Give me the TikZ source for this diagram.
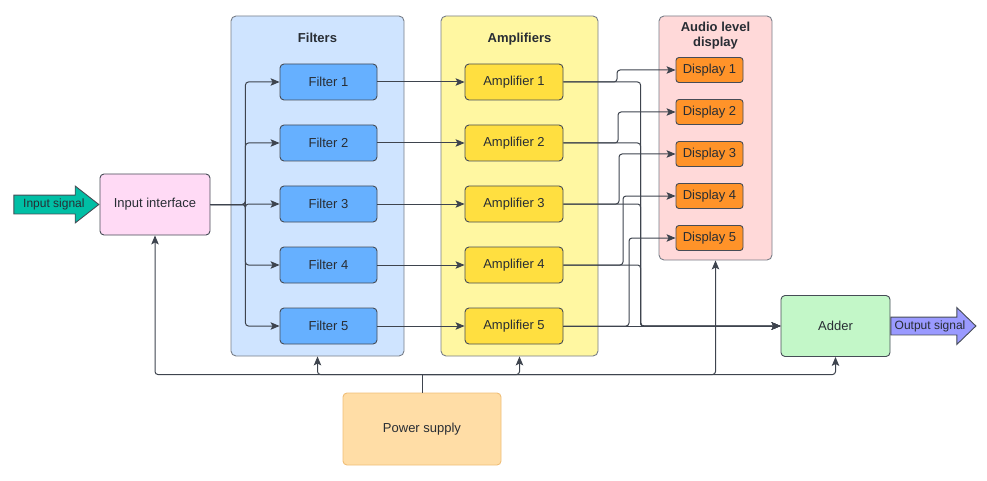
\documentclass[tikz,border=0pt]{standalone}
\usepackage{fontspec}
\setmainfont{Liberation Sans}
\usetikzlibrary{shapes,arrows.meta,positioning,calc}

\definecolor{textdark}{RGB}{40,45,52}
\definecolor{edgedark}{RGB}{70,76,86}
\definecolor{grpedge}{RGB}{120,126,136}
\definecolor{linegray}{RGB}{62,68,78}
\definecolor{insigteal}{RGB}{0,191,165}
\definecolor{inifpink}{RGB}{255,218,245}
\definecolor{filtgrp}{RGB}{207,228,255}
\definecolor{filtblue}{RGB}{102,176,255}
\definecolor{ampgrp}{RGB}{255,247,161}
\definecolor{ampyellow}{RGB}{255,223,64}
\definecolor{dispgrp}{RGB}{255,217,217}
\definecolor{disporange}{RGB}{255,147,41}
\definecolor{addergreen}{RGB}{195,247,200}
\definecolor{outviolet}{RGB}{154,154,255}
\definecolor{powerfill}{RGB}{255,221,166}
\definecolor{poweredge}{RGB}{240,190,120}

\tikzset{
  box/.style={draw=edgedark, rounded corners=4pt, line width=0.9pt, text=textdark, align=center},
  grp/.style={draw=grpedge, rounded corners=5pt, line width=0.9pt},
  grptitle/.style={font=\fontsize{13}{15.5}\selectfont\bfseries, text=textdark, align=center},
  conn/.style={draw=linegray, line width=1pt, rounded corners=3pt, -{Stealth[length=9pt,width=7.5pt,inset=2pt]}},
  wire/.style={draw=linegray, line width=1pt, rounded corners=3pt},
  fatarrow/.style={single arrow, draw=edgedark, line width=0.9pt, inner xsep=0pt,
    text height=0pt, text depth=0pt, single arrow head indent=0pt},
}

\begin{document}
\begin{tikzpicture}[x=1pt, y=-1pt, font=\fontsize{13}{15.5}\selectfont]
\useasboundingbox (0,0) rectangle (987,481);

% group frames
\node[grp, fill=filtgrp, minimum width=173pt, minimum height=340pt] (filters) at (317.5,186) {};
\node[grp, fill=ampgrp, minimum width=157pt, minimum height=340pt] (amps) at (519.5,186) {};
\node[grp, fill=dispgrp, minimum width=113pt, minimum height=244pt] (displays) at (715.5,138) {};
\node[grptitle, anchor=base] (filterstitle) at (filters.north |- 0,42.3) {Filters};
\node[grptitle, anchor=base] (ampstitle) at (amps.north |- 0,42.3) {Amplifiers};
\node[grptitle] (displaystitle) at (displays.north |- 0,35.5) {Audio level\\display};

% blocks
\node[box, fill=inifpink, minimum width=110pt, minimum height=61pt] (inif) at (155,204.5) {Input interface};
\foreach \i/\y in {1/82,2/143,3/204,4/265,5/326} {
  \node[box, fill=filtblue, minimum width=97pt, minimum height=36pt] (filt\i) at (328.5,\y) {Filter \i};
  \node[box, fill=ampyellow, minimum width=98pt, minimum height=36pt] (amp\i) at (514,\y) {Amplifier \i};
}
\foreach \i/\y in {1/70,2/112,3/154,4/196,5/238}
  \node[box, fill=disporange, rounded corners=3pt, minimum width=67pt, minimum height=25pt] (disp\i) at (709.5,\y) {Display \i};
\node[box, fill=addergreen, minimum width=109pt, minimum height=61pt] (adder) at (835.5,326) {Adder};
\node[box, draw=poweredge, fill=powerfill, minimum width=158pt, minimum height=72pt] (power) at (422,429) {Power supply};

% signal arrows
\node[fatarrow, fill=insigteal, anchor=tip, minimum height=85pt, inner ysep=9pt,
  single arrow head extend=9pt, single arrow tip angle=76] (insig) at (inif.west) {};
\node[text=textdark, font=\fontsize{12}{14}\selectfont] (insiglabel) at ($(insig.tail)!0.47!(insig.tip)$) {Input signal};
\node[fatarrow, fill=outviolet, anchor=tail, minimum height=85pt, inner ysep=8.5pt,
  single arrow head extend=9.5pt, single arrow tip angle=88] (outsig) at (adder.east) {};
\node[text=textdark, font=\fontsize{12}{14}\selectfont] (outsiglabel) at ($(outsig.tail)!0.46!(outsig.tip)$) {Output signal};

% input interface -> filters -> amplifiers
\path (inif.east) ++(35,0) coordinate (split);
\foreach \i in {1,...,5} {
  \draw[conn] (inif.east) -- (split) |- (filt\i.west);
  \draw[conn] (filt\i.east) -- (amp\i.west);
}

% amplifiers -> displays
\foreach \i/\x in {1/617,2/618,3/619,4/623,5/629} {
  \coordinate (tap\i) at (\x,0);
  \draw[conn] (amp\i.east) -- (amp\i.east -| tap\i) |- (disp\i.west);
}

% amplifiers -> adder
\path (adder.west) ++(-140,0) coordinate (merge);
\foreach \i in {1,...,4}
  \draw[conn] (amp\i.east) -| (merge) -- (adder.west);
\draw[conn] (amp5.east) -- (adder.west);

% power supply bus
\path (power.north) ++(0,-18) coordinate (pbus);
\draw[wire] (power.north) -- (pbus);
\foreach \t in {inif,filters,amps,displays,adder}
  \draw[conn] (pbus) -| (\t.south);
\end{tikzpicture}
\end{document}
